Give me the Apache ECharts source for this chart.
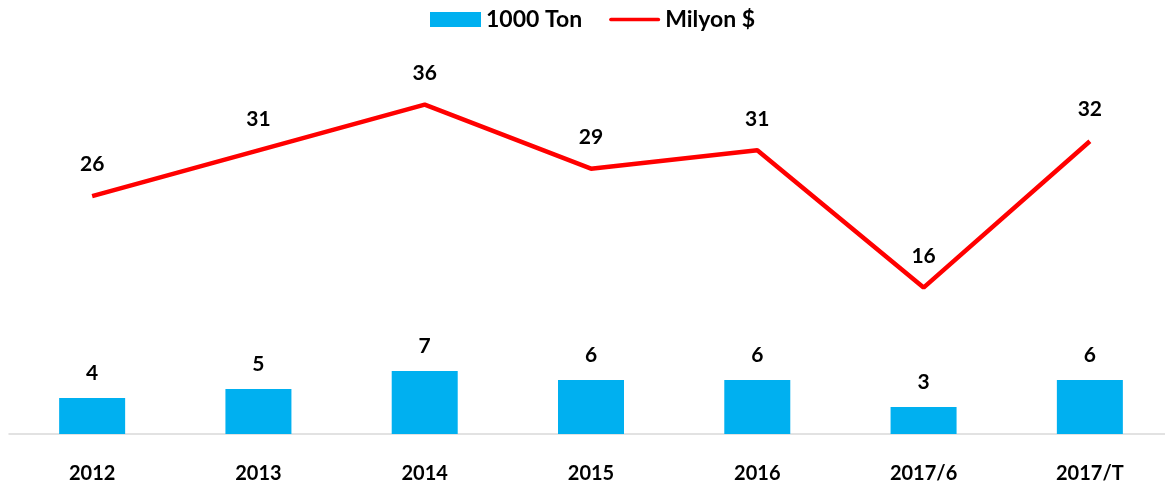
<!DOCTYPE html>
<html>
<head>
<meta charset="utf-8">
<script src="https://cdn.jsdelivr.net/npm/echarts@6/dist/echarts.min.js"></script>
<style>
html,body{margin:0;padding:0;background:#fff;overflow:hidden;}
#c{width:1174px;height:488px;}
</style>
</head>
<body>
<div id="c"></div>
<script>
const categories = ['2012','2013','2014','2015','2016','2017/6','2017/T'];
const tonValues = [4,5,7,6,6,3,6];
const usdValues = [26,31,36,29,31,16,32];
const seriesNames = ['1000 Ton','Milyon $'];

const FONT = 'Lato';
const chart = echarts.init(document.getElementById('c'));
chart.setOption({
  animation:false,
  backgroundColor:'#fff',
  textStyle:{fontFamily:FONT},
  legend:{
    top:3, left:425,
    itemGap:27, itemWidth:51, itemHeight:15,
    textStyle:{fontFamily:FONT,fontWeight:'bold',fontSize:23,color:'#000'},
    data:[
      {name:seriesNames[0],icon:'rect'},
      {name:seriesNames[1],icon:'path://M2,0 L53,0 A2,2 0 0 1 53,4 L2,4 A2,2 0 0 1 2,0 Z'}
    ]
  },
  grid:{left:9,right:1,top:38,bottom:54,containLabel:false},
  xAxis:{
    type:'category',data:categories,
    axisLine:{lineStyle:{color:'#d9d9d9',width:1.5}},
    axisTick:{show:false},
    axisLabel:{fontFamily:FONT,fontWeight:'bold',fontSize:20,color:'#000',margin:30}
  },
  yAxis:[
    {type:'value',min:0,max:44,show:false,splitLine:{show:false}},
    {type:'value',min:0,max:396/9.15,show:false,splitLine:{show:false}}
  ],
  series:[
    {name:seriesNames[0],type:'bar',data:tonValues,barWidth:66,
     itemStyle:{color:'#00B0F0'},
     label:{show:true,position:'top',distance:14,fontFamily:FONT,fontWeight:'bold',fontSize:21,color:'#000'}},
    {name:seriesNames[1],type:'line',yAxisIndex:1,data:usdValues,
     symbol:'circle',symbolSize:0,showSymbol:true,
     lineStyle:{color:'#FF0000',width:4.5},itemStyle:{color:'#FF0000'},
     label:{show:true,position:'top',distance:21,fontFamily:FONT,fontWeight:'bold',fontSize:21,color:'#000'}}
  ]
});
</script>
</body>
</html>
